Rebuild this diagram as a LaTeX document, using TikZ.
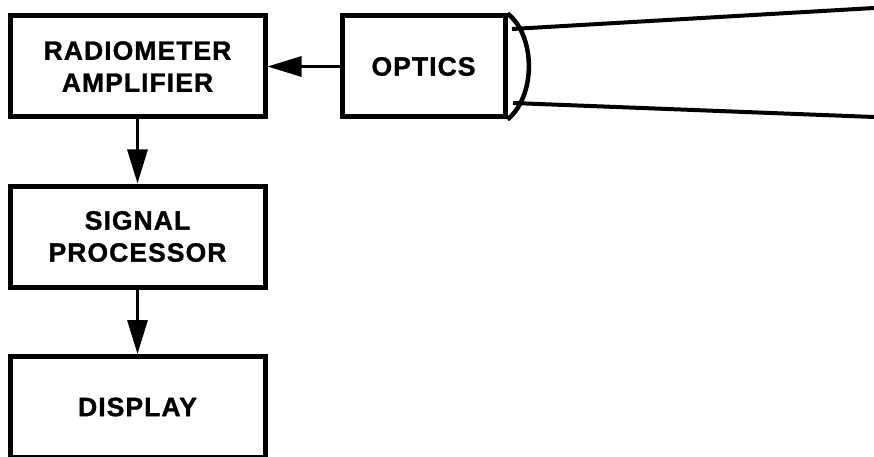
\documentclass[tikz,border=0pt]{standalone}
\usepackage{fontspec}
\setmainfont{Liberation Sans}[LetterSpace=4,BoldFeatures={FakeBold=1.2}]
\usetikzlibrary{arrows.meta}
\begin{document}
\begin{tikzpicture}[x=1pt,y=-1pt,
  blk/.style={draw,line width=5pt,minimum width=255pt,minimum height=101pt,inner sep=0pt,align=center,font=\fontsize{26.5}{32}\selectfont\bfseries},
  conn/.style={line width=3.2pt,-{Triangle[length=34pt,width=20pt]}},
  ray/.style={line width=4pt}]
\useasboundingbox (0,0) rectangle (874,457);
\node[blk] (ra) at (137.5,66.5) {RADIOMETER\\AMPLIFIER};
\node[blk,minimum width=163pt] (op) at (423.5,66.5) {OPTICS};
\node[blk] (sp) at (137.5,236.5) {SIGNAL\\PROCESSOR};
\node[blk] (di) at (137.5,407) {DISPLAY};
\draw[conn] (op.west) -- (ra.east);
\draw[conn] (ra.south) -- (sp.north);
\draw[conn] (sp.south) -- (di.north);
\draw[line width=4.5pt] (op.north east) .. controls (536,36) and (536,96) .. (op.south east);
\coordinate (lt) at (512,29);
\coordinate (lb) at (513,103);
\coordinate (ft) at (874,8);
\coordinate (fb) at (874,117);
\draw[ray] (lt) -- (ft);
\draw[ray] (lb) -- (fb);
\end{tikzpicture}
\end{document}
